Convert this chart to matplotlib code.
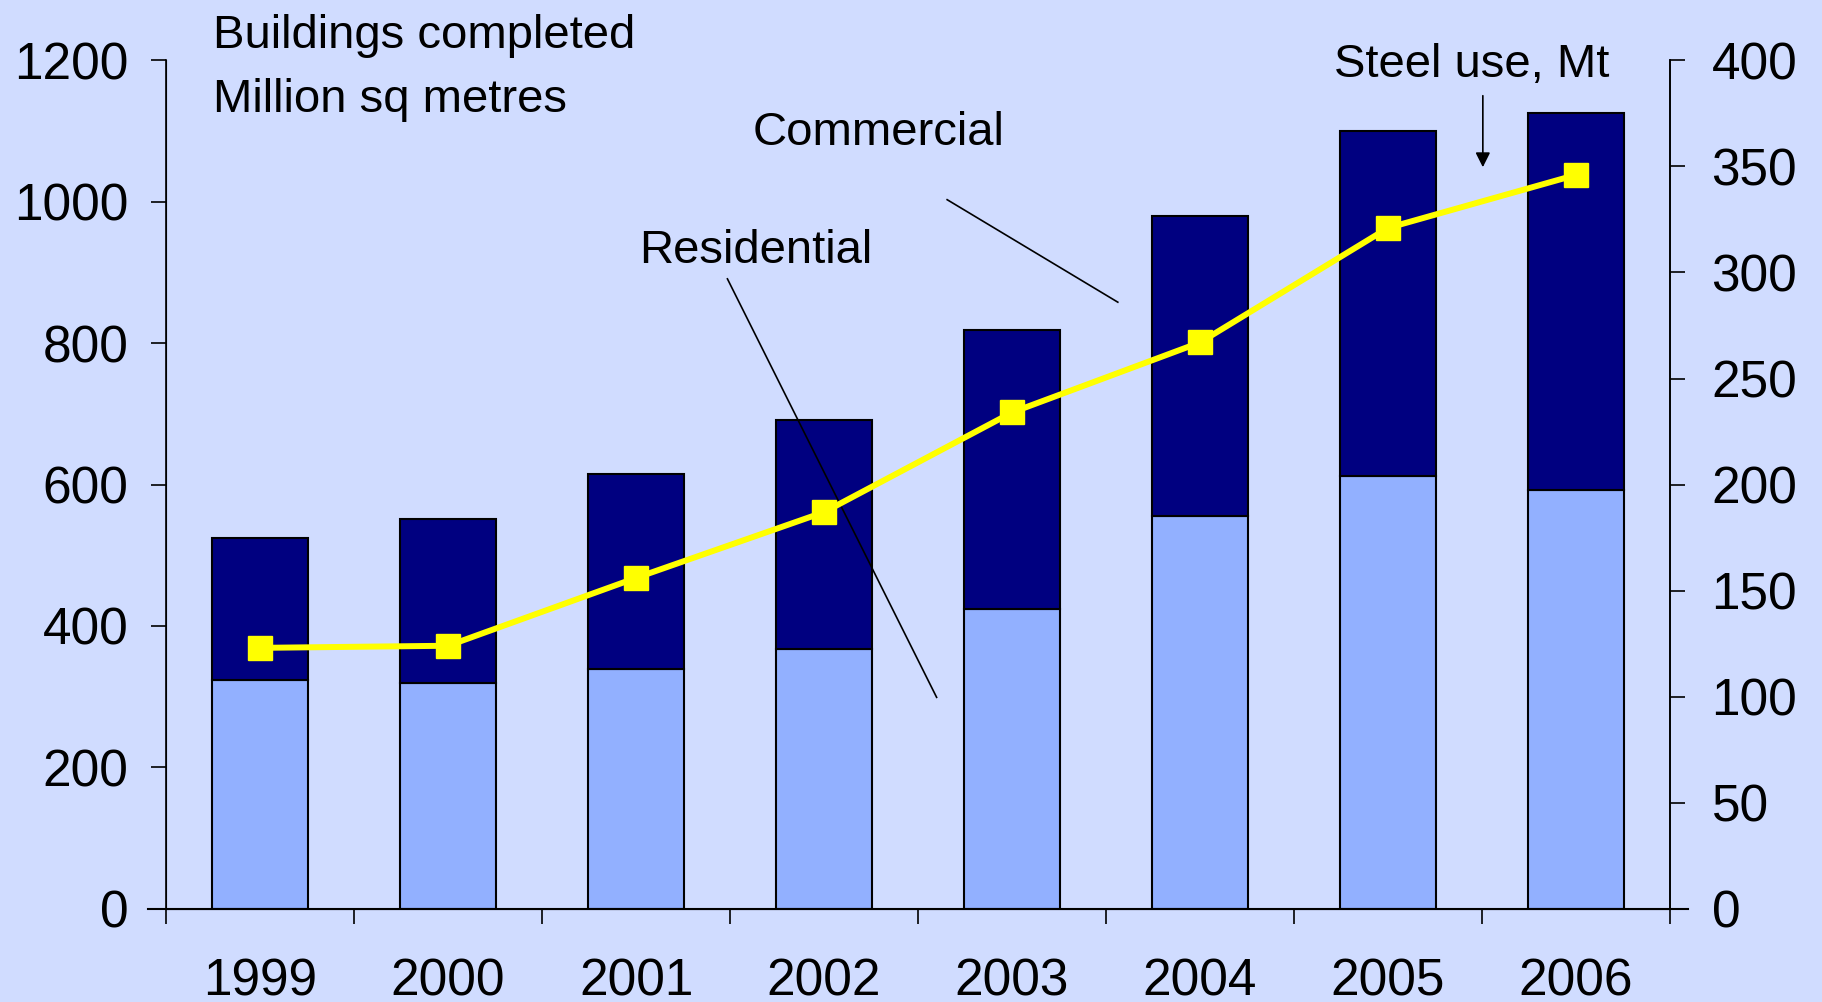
import numpy as np
import matplotlib
matplotlib.use("Agg")
import matplotlib.pyplot as plt

years = ["1999", "2000", "2001", "2002", "2003", "2004", "2005", "2006"]
residential = [324, 319, 339, 368, 424, 556, 612, 593]
total = [524, 551, 615, 692, 819, 980, 1100, 1126]
steel_use = [123, 124, 156, 187, 234, 267, 321, 346]

commercial = [t - r for t, r in zip(total, residential)]

plt.rcParams["font.family"] = ["Liberation Sans", "DejaVu Sans"]
bg = "#D0DCFF"

fig = plt.figure(figsize=(18.22, 10.02), dpi=100, facecolor=bg)
ax = fig.add_axes([0.0912, 0.0931, 0.8253, 0.8466])
ax.set_facecolor(bg)

x = np.arange(len(years))
ax.bar(x, residential, width=0.51, color="#92B0FF", edgecolor="black", linewidth=1.5, zorder=2)
ax.bar(x, commercial, width=0.51, bottom=residential, color="#000080",
       edgecolor="black", linewidth=1.5, zorder=2)

ax.set_xlim(-0.5, len(years) - 0.5)
ax.set_ylim(0, 1200)
ax.set_yticks(range(0, 1201, 200))
ax.set_xticks(x)
ax.set_xticklabels(years)
ax.set_xticks(np.arange(-0.5, len(years)), minor=True)
ax.tick_params(axis="x", which="major", length=0, pad=35, labelsize=37)
ax.tick_params(axis="x", which="minor", length=11, width=1.2, direction="out")
ax.tick_params(axis="y", length=11, width=1.2, pad=16, labelsize=37)
ax.spines["top"].set_visible(False)
for s in ["left", "right", "bottom"]:
    ax.spines[s].set_linewidth(1.2)
ax.axhline(0, xmin=-0.012, xmax=1.012, color="black", linewidth=1.5, clip_on=False, zorder=3)

# annotations (below the steel line)
ax.text(-0.253, 1234, "Buildings completed", fontsize=34, va="center", ha="left", clip_on=False)
ax.text(-0.253, 1144, "Million sq metres", fontsize=34, va="center", ha="left", clip_on=False)

ax.text(2.62, 1098, "Commercial", fontsize=34, va="center", ha="left")
ax.plot([3.655, 4.563], [1003, 858], color="black", linewidth=1.2, zorder=5)
ax.text(2.016, 930, "Residential", fontsize=34, va="center", ha="left", zorder=6)
ax.plot([2.486, 3.599], [891, 299], color="black", linewidth=1.2, zorder=5)

ax.text(5.713, 1193, "Steel use, Mt", fontsize=34, va="center", ha="left", zorder=6)
ax.annotate("", xy=(6.505, 1045), xytext=(6.505, 1154),
            arrowprops=dict(arrowstyle="-|>", color="black", lw=1.2, mutation_scale=22))

ax2 = ax.twinx()
ax2.patch.set_visible(False)
ax2.set_ylim(0, 400)
ax2.set_yticks(range(0, 401, 50))
ax2.tick_params(axis="y", length=11, width=1.2, pad=19, labelsize=37)
ax2.spines["top"].set_visible(False)
ax2.spines["right"].set_linewidth(1.2)
ax2.plot(x, steel_use, color="#FFFF00", linewidth=4.3, marker="s", markersize=17,
         markerfacecolor="#FFFF00", markeredgecolor="#FFFF00", zorder=4)

fig.savefig("out.png", dpi=100, facecolor=bg)
